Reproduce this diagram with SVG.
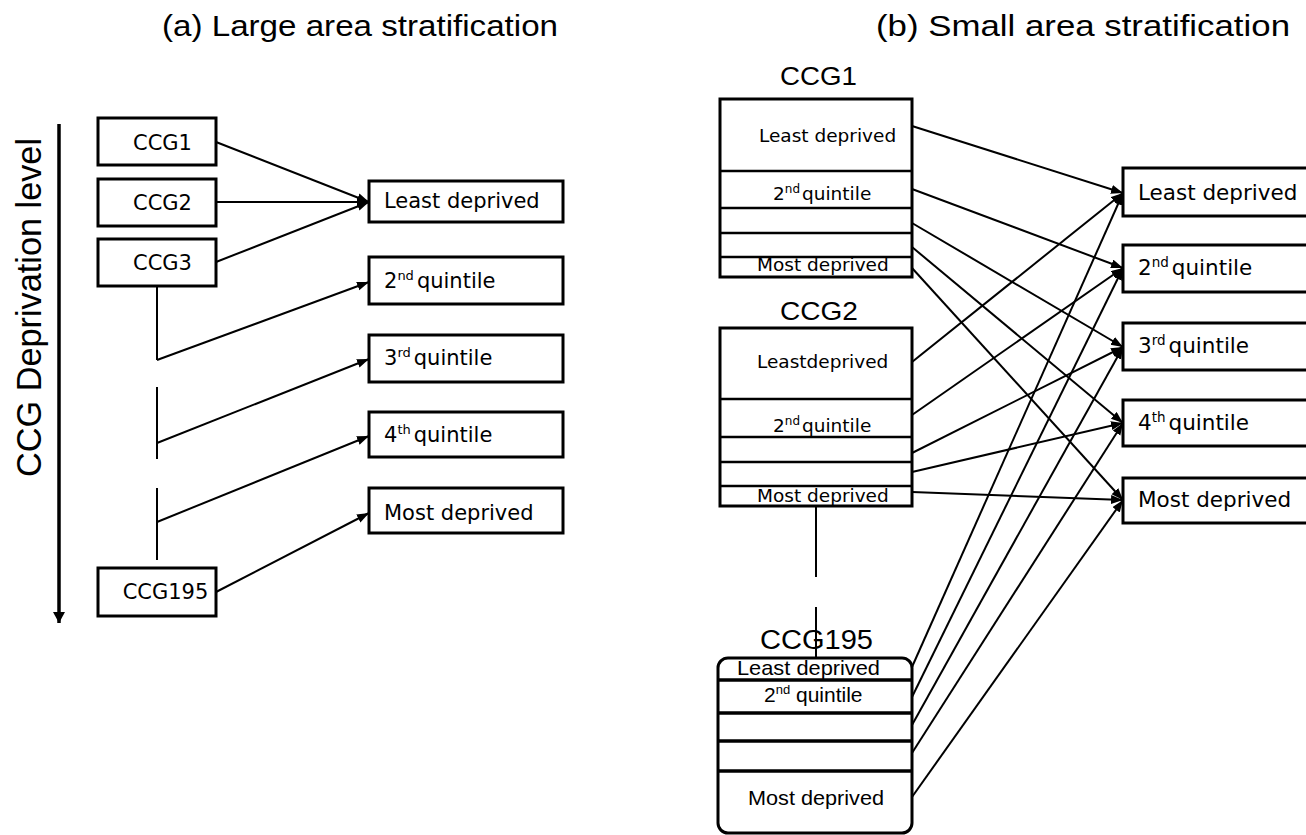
<svg xmlns="http://www.w3.org/2000/svg" width="1306" height="835" viewBox="0 0 1306 835">
<defs>
<marker id="ah" markerUnits="userSpaceOnUse" markerWidth="13" markerHeight="10" refX="12" refY="4.5" orient="auto">
<path d="M0,0 L12,4.5 L0,9 z" fill="#000"/>
</marker>
<marker id="axh" markerUnits="userSpaceOnUse" markerWidth="13" markerHeight="13" refX="11" refY="6" orient="auto">
<path d="M0,0 L11,6 L0,12 z" fill="#000"/>
</marker>
<style>
.box{fill:#fff;stroke:#000;stroke-width:3}
.div{stroke:#000;stroke-width:2.5;fill:none}
.div2{stroke:#000;stroke-width:3.5;fill:none}
.con{stroke:#000;stroke-width:2;fill:none}
.arr{stroke:#000;stroke-width:2;fill:none;marker-end:url(#ah)}
.dj{font-family:"DejaVu Sans",sans-serif;fill:#000}
.ar{font-family:"Liberation Sans",Arial,sans-serif;fill:#000}
.t21{font-size:21px}
.t18{font-size:18.5px}
.t22{font-size:21.5px}
</style>
</defs>
<rect width="1306" height="835" fill="#fff"/>

<!-- titles -->
<text class="ar" x="162" y="36" font-size="29" textLength="396" lengthAdjust="spacingAndGlyphs">(a) Large area stratification</text>
<text class="ar" x="876" y="36" font-size="29" textLength="414" lengthAdjust="spacingAndGlyphs">(b) Small area stratification</text>

<!-- axis -->
<g id="axis">
<line x1="59" y1="124" x2="59" y2="623" stroke="#000" stroke-width="3.5" marker-end="url(#axh)"/>
<text class="ar" transform="translate(41,307.5) rotate(-90)" font-size="35" text-anchor="middle" textLength="339" lengthAdjust="spacingAndGlyphs">CCG Deprivation level</text>
</g>

<!-- panel a nodes -->
<g id="a-ccg1"><rect class="box" x="98" y="118" width="118" height="47"/><text class="dj t21" x="162.5" y="150" text-anchor="middle">CCG1</text></g>
<g id="a-ccg2"><rect class="box" x="98" y="179" width="118" height="47"/><text class="dj t21" x="162.5" y="210" text-anchor="middle">CCG2</text></g>
<g id="a-ccg3"><rect class="box" x="98" y="239" width="118" height="47"/><text class="dj t21" x="162.5" y="270" text-anchor="middle">CCG3</text></g>
<g id="a-ccg195"><rect class="box" x="98" y="568" width="118" height="48"/><text class="dj t21" x="165.5" y="599" text-anchor="middle">CCG195</text></g>

<g id="a-least"><rect class="box" x="369" y="181" width="194" height="41"/><text class="dj t21" x="384" y="208">Least deprived</text></g>
<g id="a-q2"><rect class="box" x="369" y="257" width="194" height="47"/><text class="dj t21" x="384" y="288">2<tspan font-size="13" dy="-8">nd</tspan><tspan dx="3" dy="8">quintile</tspan></text></g>
<g id="a-q3"><rect class="box" x="369" y="335" width="194" height="47"/><text class="dj t21" x="384" y="365">3<tspan font-size="13" dy="-8">rd</tspan><tspan dx="3" dy="8">quintile</tspan></text></g>
<g id="a-q4"><rect class="box" x="369" y="412" width="194" height="45"/><text class="dj t21" x="384" y="442">4<tspan font-size="13" dy="-8">th</tspan><tspan dx="3" dy="8">quintile</tspan></text></g>
<g id="a-most"><rect class="box" x="369" y="488" width="194" height="45"/><text class="dj t21" x="384" y="520">Most deprived</text></g>

<!-- panel b nodes -->
<g id="b-ccg1">
<text class="ar" x="780" y="85" font-size="26" textLength="77" lengthAdjust="spacingAndGlyphs">CCG1</text>
<rect class="box" x="720" y="99" width="192" height="178"/>
<line class="div" x1="720" y1="171" x2="912" y2="171"/>
<line class="div" x1="720" y1="208" x2="912" y2="208"/>
<line class="div" x1="720" y1="233" x2="912" y2="233"/>
<line class="div" x1="720" y1="257" x2="912" y2="257"/>
<text class="dj t18" x="759" y="142">Least deprived</text>
<text class="dj t18" x="773" y="200">2<tspan font-size="12" dy="-7">nd</tspan><tspan dx="2" dy="7">quintile</tspan></text>
<text class="dj t18" x="757" y="271">Most deprived</text>
</g>
<g id="b-ccg2">
<text class="ar" x="780" y="320" font-size="26" textLength="78" lengthAdjust="spacingAndGlyphs">CCG2</text>
<rect class="box" x="720" y="328" width="192" height="178"/>
<line class="div" x1="720" y1="399" x2="912" y2="399"/>
<line class="div" x1="720" y1="437" x2="912" y2="437"/>
<line class="div" x1="720" y1="462" x2="912" y2="462"/>
<line class="div" x1="720" y1="486" x2="912" y2="486"/>
<text class="dj t18" x="757" y="368">Leastdeprived</text>
<text class="dj t18" x="773" y="432">2<tspan font-size="12" dy="-7">nd</tspan><tspan dx="2" dy="7">quintile</tspan></text>
<text class="dj t18" x="757" y="502">Most deprived</text>
</g>
<g id="b-ccg195">
<text class="ar" x="760" y="649" font-size="27" textLength="113" lengthAdjust="spacingAndGlyphs">CCG195</text>
<rect class="box" x="718" y="658" width="194" height="175" rx="10"/>
<line class="div2" x1="718" y1="680" x2="912" y2="680"/>
<line class="div2" x1="718" y1="713" x2="912" y2="713"/>
<line class="div2" x1="718" y1="741" x2="912" y2="741"/>
<line class="div2" x1="718" y1="771" x2="912" y2="771"/>
<text class="ar" x="737" y="675" font-size="21" textLength="143" lengthAdjust="spacingAndGlyphs">Least deprived</text>
<text class="ar" x="764" y="702" font-size="21">2<tspan font-size="13" dy="-8">nd</tspan><tspan dy="8"> quintile</tspan></text>
<text class="ar" x="748" y="805" font-size="21" textLength="136" lengthAdjust="spacingAndGlyphs">Most deprived</text>
</g>

<g id="b-least"><rect class="box" x="1123" y="168" width="200" height="48"/><text class="dj t22" x="1138" y="200">Least deprived</text></g>
<g id="b-q2"><rect class="box" x="1123" y="245" width="200" height="47"/><text class="dj t22" x="1138" y="275">2<tspan font-size="13.5" dy="-8">nd</tspan><tspan dx="3" dy="8">quintile</tspan></text></g>
<g id="b-q3"><rect class="box" x="1123" y="323" width="200" height="47"/><text class="dj t22" x="1138" y="353">3<tspan font-size="13.5" dy="-8">rd</tspan><tspan dx="3" dy="8">quintile</tspan></text></g>
<g id="b-q4"><rect class="box" x="1123" y="400" width="200" height="46"/><text class="dj t22" x="1138" y="430">4<tspan font-size="13.5" dy="-8">th</tspan><tspan dx="3" dy="8">quintile</tspan></text></g>
<g id="b-most"><rect class="box" x="1123" y="478" width="200" height="45"/><text class="dj t22" x="1138" y="507">Most deprived</text></g>

<!-- connectors -->
<g id="connectors">
<line class="arr" x1="216" y1="142" x2="369" y2="202"/>
<line class="arr" x1="216" y1="202" x2="369" y2="202"/>
<line class="arr" x1="216" y1="262" x2="369" y2="202"/>
<line class="con" x1="157" y1="286" x2="157" y2="360"/>
<line class="arr" x1="157" y1="360" x2="369" y2="282"/>
<line class="con" x1="157" y1="387" x2="157" y2="459"/>
<line class="arr" x1="157" y1="443" x2="369" y2="359"/>
<line class="con" x1="157" y1="488" x2="157" y2="560"/>
<line class="arr" x1="157" y1="522" x2="369" y2="436"/>
<line class="arr" x1="216" y1="592" x2="369" y2="513"/>

<line class="con" x1="816" y1="506" x2="816" y2="577"/>
<line class="con" x1="816" y1="607" x2="816" y2="658"/>

<line class="arr" x1="912" y1="126" x2="1123" y2="193"/>
<line class="arr" x1="912" y1="189" x2="1123" y2="268"/>
<line class="arr" x1="912" y1="223" x2="1123" y2="347"/>
<line class="arr" x1="912" y1="247" x2="1123" y2="423"/>
<line class="arr" x1="912" y1="268" x2="1123" y2="500"/>

<line class="arr" x1="912" y1="362" x2="1123" y2="193"/>
<line class="arr" x1="912" y1="415" x2="1123" y2="268"/>
<line class="arr" x1="912" y1="453" x2="1123" y2="347"/>
<line class="arr" x1="912" y1="472" x2="1123" y2="423"/>
<line class="arr" x1="912" y1="492" x2="1123" y2="500"/>

<line class="arr" x1="912" y1="667" x2="1123" y2="193"/>
<line class="arr" x1="912" y1="697" x2="1123" y2="268"/>
<line class="arr" x1="912" y1="725" x2="1123" y2="347"/>
<line class="arr" x1="912" y1="753" x2="1123" y2="423"/>
<line class="arr" x1="912" y1="797" x2="1123" y2="500"/>
</g>
</svg>
